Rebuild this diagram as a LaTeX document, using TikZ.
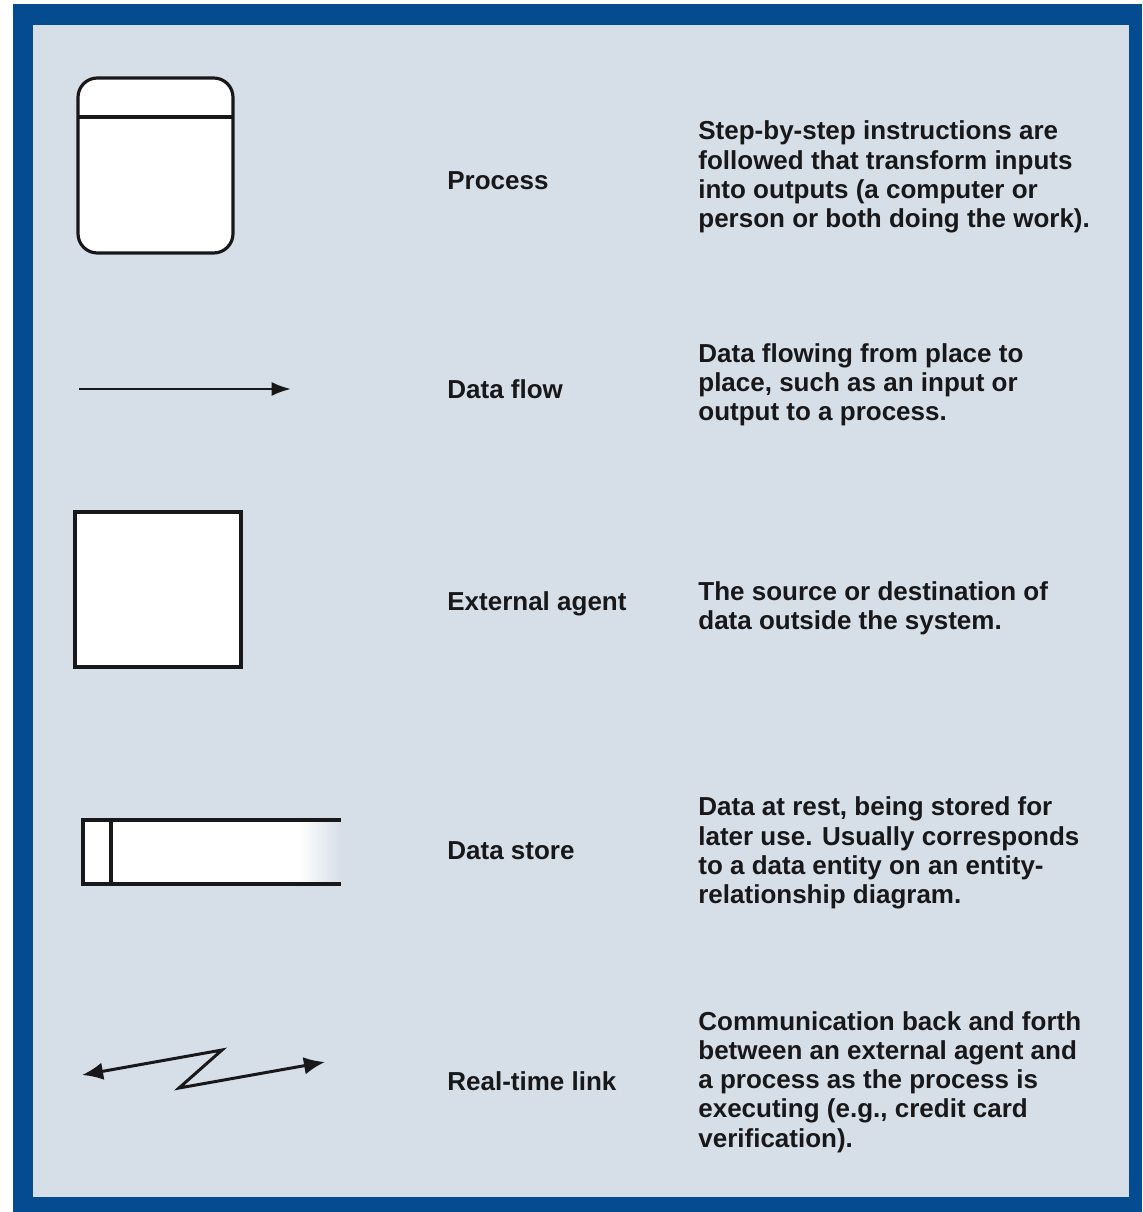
\documentclass[tikz,border=0pt]{standalone}
\usepackage{fontspec}
\setmainfont{Liberation Sans}
\usetikzlibrary{arrows.meta}
\definecolor{frameblue}{RGB}{4,76,143}
\definecolor{panel}{RGB}{214,222,232}
\definecolor{ink}{RGB}{24,24,26}
\tikzset{
  sym/.style={draw=ink,line width=1.8pt,fill=white},
  symname/.style={anchor=west,font=\fontsize{14.8}{17}\selectfont\bfseries,text=ink,inner sep=0pt},
  desc/.style={anchor=west,align=left,font=\fontsize{14.8}{16.6}\selectfont\bfseries,text=ink,inner sep=0pt},
  flow/.style={draw=ink,line width=1.5pt,-{Latex[length=11pt,width=8pt]}}
}
\begin{document}
\begin{tikzpicture}[x=0.02cm,y=-0.02cm]
        \useasboundingbox (0,0) rectangle (1142,1212);
        \fill[white] (0,0) rectangle (1142,1212);
        \fill[frameblue] (13,4) rectangle (1142,1212);
        \fill[panel] (33,25) rectangle (1129,1197);
        % process
        \draw[sym,rounded corners=11pt] (78,78) rectangle (233,253);
        \draw[draw=ink,line width=1.8pt] (78,117) -- (233,117);
        \node[symname] (process) at (447,181) {Process};
        \node[desc] (processtxt) at (698,177) {Step-by-step instructions are\\followed that transform inputs\\into outputs (a computer or\\person or both doing the work).};
        % data flow
        \coordinate (flowa) at (79,389);
        \coordinate (flowb) at (291,389);
        \draw[flow] (flowa) -- (flowb);
        \node[symname] (dataflow) at (447,389) {Data flow};
        \node[desc] (dataflowtxt) at (698,385) {Data flowing from place to\\place, such as an input or\\output to a process.};
        % external agent
        \draw[sym] (75,512) rectangle (241,667);
        \node[symname] (agent) at (447,604) {External agent};
        \node[desc] (agenttxt) at (698,608) {The source or destination of\\data outside the system.};
        % data store
        \fill[white] (83,820) rectangle (300,884);
        \shade[left color=white,right color=panel] (299,820) rectangle (341,884);
        \draw[draw=ink,line width=1.8pt] (341,820) -- (83,820) -- (83,884) -- (341,884);
        \draw[draw=ink,line width=1.8pt] (111,820) -- (111,884);
        \node[symname] (store) at (447,851) {Data store};
        \node[desc] (storetxt) at (698,853) {Data at rest, being stored for\\later use. Usually corresponds\\to a data entity on an entity-\\relationship diagram.};
        % real-time link
        \coordinate (linka) at (82,1075);
        \coordinate (linkb) at (222,1050);
        \coordinate (linkc) at (179,1088);
        \coordinate (linkd) at (325,1062);
        \draw[draw=ink,line width=1.7pt,line join=miter,{Latex[length=12pt,width=10pt]}-{Latex[length=12pt,width=10pt]}] (linka) -- (linkb) -- (linkc) -- (linkd);
        \node[symname] (link) at (447,1081) {Real-time link};
        \node[desc] (linktxt) at (698,1082) {Communication back and forth\\between an external agent and\\a process as the process is\\executing (e.g., credit card\\verification).};
\end{tikzpicture}
\end{document}
